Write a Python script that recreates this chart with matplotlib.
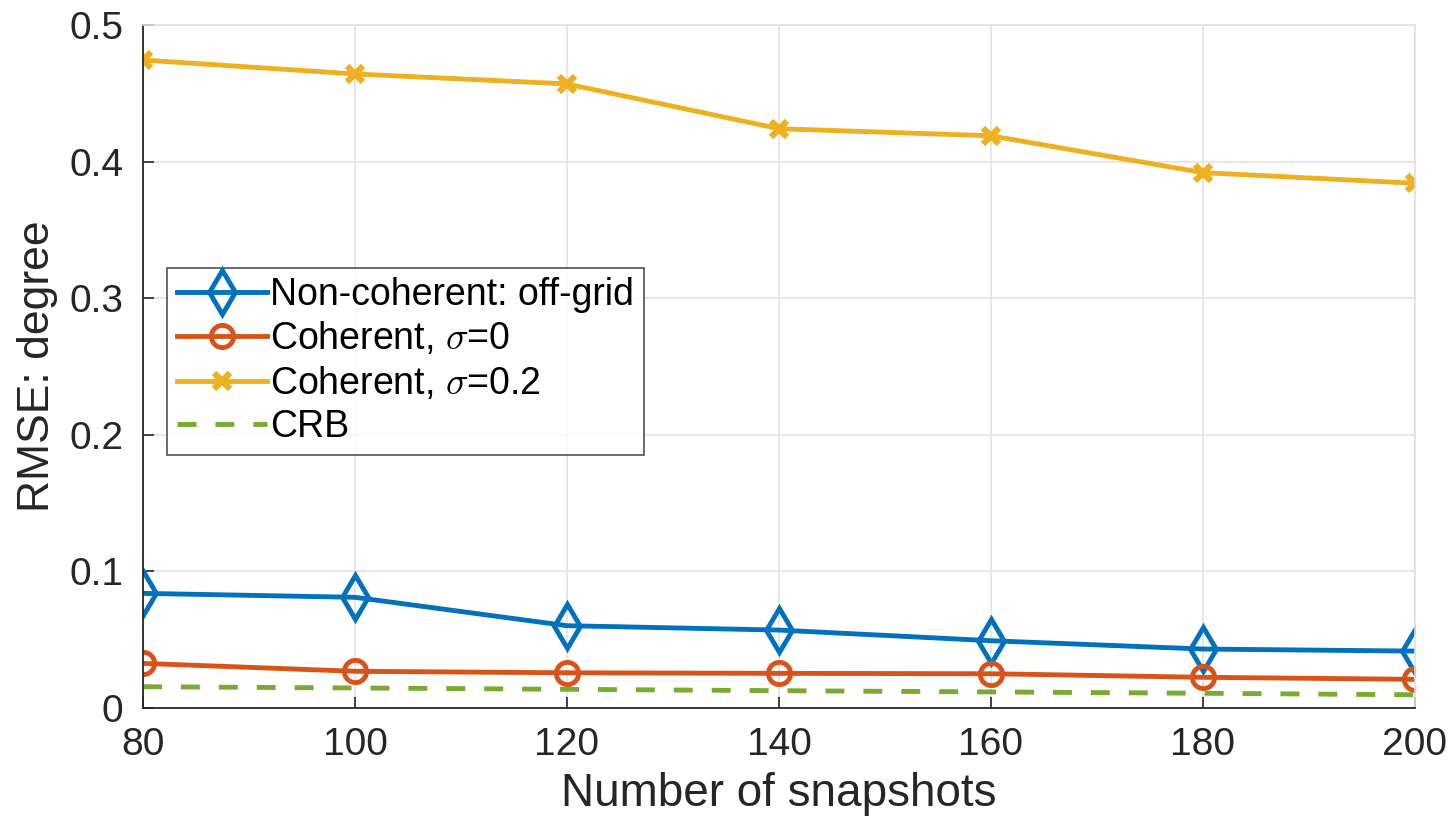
import matplotlib.pyplot as plt

plt.rcParams['font.family'] = ['Liberation Sans', 'DejaVu Sans']
plt.rcParams['mathtext.fontset'] = 'cm'

snapshots = [80, 100, 120, 140, 160, 180, 200]
noncoherent = [0.0838, 0.0809, 0.0601, 0.0569, 0.0491, 0.0430, 0.0415]
coherent_0 = [0.0325, 0.0267, 0.0256, 0.0252, 0.0249, 0.0223, 0.0208]
coherent_02 = [0.4745, 0.4643, 0.4570, 0.4242, 0.4190, 0.3920, 0.3842]
crb = [0.0154, 0.0145, 0.0135, 0.0125, 0.0116, 0.0106, 0.0095]

fig = plt.figure(figsize=(14.53, 8.30), dpi=100)
ax = fig.add_axes([0.0984, 0.1473, 0.8754, 0.8223])

lw = 3.5
ax.plot(snapshots, noncoherent, color='#0072BD', lw=lw, marker='d', ms=22,
        mfc='none', mew=3.5, label='Non-coherent: off-grid')
ax.plot(snapshots, coherent_0, color='#D95319', lw=lw, marker='o', ms=16,
        mfc='none', mew=3.5, label=r'Coherent, $\sigma$=0')
ax.plot(snapshots, coherent_02, color='#EDB120', lw=lw, marker='x', ms=12,
        mew=4.5, label=r'Coherent, $\sigma$=0.2')
ax.plot(snapshots, crb, color='#77AC30', lw=lw, ls=(0, (3.9, 3.9)), label='CRB')

ax.set_xlim(80, 200)
ax.set_ylim(0, 0.5)
ax.set_xticks(snapshots)
ax.set_yticks([0, 0.1, 0.2, 0.3, 0.4, 0.5])
ax.set_yticklabels(['0', '0.1', '0.2', '0.3', '0.4', '0.5'])
ax.grid(True, color='#e3e3e3', lw=1.2)
ax.set_axisbelow(True)
ax.tick_params(direction='in', labelsize=28, length=8, width=1.2,
               colors='#262626')
ax.tick_params(axis='x', pad=14)
ax.tick_params(axis='y', pad=14)
for side in ['left', 'bottom']:
    ax.spines[side].set_color('#262626')
    ax.spines[side].set_linewidth(1.3)
for side in ['top', 'right']:
    ax.spines[side].set_color('#e0e0e0')
    ax.spines[side].set_linewidth(1.2)

ax.set_xlabel('Number of snapshots', fontsize=33, color='#262626', labelpad=6)
ax.set_ylabel('RMSE: degree', fontsize=32, color='#262626', labelpad=8)

leg = ax.legend(loc='upper left', bbox_to_anchor=(0.019, 0.645), fontsize=27,
                frameon=True, fancybox=False, edgecolor='#262626',
                handlelength=2.4, handletextpad=0.1, labelspacing=0.2,
                borderpad=0.25, borderaxespad=0)
leg.get_frame().set_linewidth(1.2)

fig.savefig('out.png', dpi=100)
